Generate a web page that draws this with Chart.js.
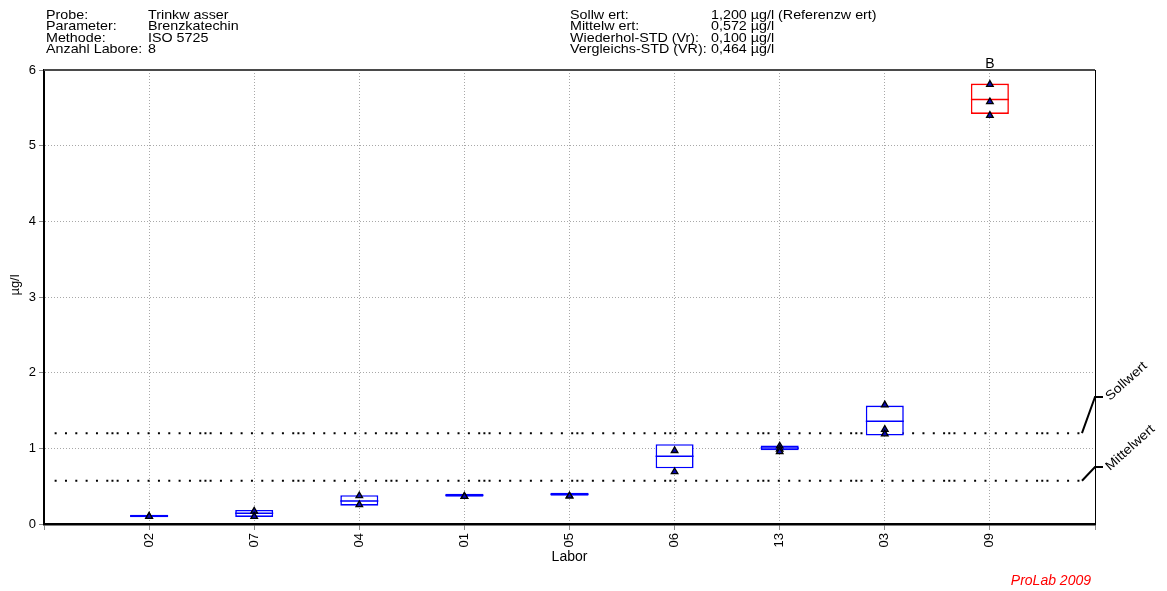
<!DOCTYPE html>
<html>
<head>
<meta charset="utf-8">
<script src="https://cdn.jsdelivr.net/npm/chart.js@4.4.1/dist/chart.umd.min.js"></script>
<style>
  html, body { margin: 0; padding: 0; background: #fff; }
  canvas { display: block; }
</style>
</head>
<body>
<canvas id="c" width="1167" height="591"></canvas>
<script>
// Laboratory codes in plotted order
const labs = ['02', '07', '04', '01', '05', '06', '13', '03', '09'];
// Box per laboratory: lower edge, centre line, upper edge (µg/l)
const boxLow  = [0.089, 0.093, 0.242, 0.361, 0.374, 0.737, 0.975, 1.168, 5.42];
const boxMid  = [0.106, 0.141, 0.304, 0.380, 0.394, 0.895, 1.005, 1.358, 5.61];
const boxHigh = [0.123, 0.185, 0.380, 0.401, 0.414, 1.054, 1.036, 1.565, 5.82];
// Single results of each laboratory (µg/l)
const singles = [
  [0.10, 0.10],
  [0.17, 0.10],
  [0.373, 0.255],
  [0.364, 0.364],
  [0.37, 0.37],
  [0.97, 0.69],
  [1.03, 0.99, 0.956],
  [1.574, 1.25, 1.19],
  [5.81, 5.58, 5.40]
];
// Outlier flags per laboratory
const flags = ['', '', '', '', '', '', '', '', 'B'];
// Reference values (µg/l)
const sollwert = 1.200;
const mittelwert = 0.572;
// Where the reference-line captions sit on the right edge (µg/l)
const sollwertCaptionAt = 1.68;
const mittelwertCaptionAt = 0.754;

const headerLeft = [
  ['Probe:', 'Trinkw asser'],
  ['Parameter:', 'Brenzkatechin'],
  ['Methode:', 'ISO 5725'],
  ['Anzahl Labore:', '8']
];
const headerRight = [
  ['Sollw ert:', '1,200 µg/l (Referenzw ert)'],
  ['Mittelw ert:', '0,572 µg/l'],
  ['Wiederhol-STD (Vr):', '0,100 µg/l'],
  ['Vergleichs-STD (VR):', '0,464 µg/l']
];

const FONT = '"Liberation Sans", Arial, sans-serif';
const xMax = labs.length + 1;
const refStart = 0.1;
const refEnd = 9.876;
// dotted reference line: a dot every ~10.3 px with an extra dot every 9th step
const dotPattern = [2, 3.17, 2, 3.17].concat(Array(8).fill([2, 8.33]).flat());
const boxColors = flags.map(f => f ? '#ff0000' : '#0000ff');

// header text is set in a slightly widened face
function wideText(ctx, text, x, y, stretch) {
  ctx.save();
  ctx.translate(x, y);
  ctx.scale(stretch, 1);
  ctx.fillText(text, 0, 0);
  ctx.restore();
}

const decorations = {
  id: 'decorations',
  beforeDatasetsDraw(chart) {
    const { ctx, chartArea: a } = chart;
    ctx.save();
    ctx.strokeStyle = '#4a4a4a';
    ctx.lineWidth = 2;
    ctx.beginPath();
    ctx.moveTo(a.left, a.top);
    ctx.lineTo(a.right, a.top);
    ctx.stroke();
    ctx.strokeStyle = '#000';
    ctx.lineWidth = 1;
    ctx.beginPath();
    ctx.moveTo(a.right + 0.5, a.top);
    ctx.lineTo(a.right + 0.5, a.bottom);
    ctx.stroke();
    ctx.restore();
  },
  afterDatasetsDraw(chart) {
    const { ctx, scales: { x, y } } = chart;
    const xe = x.getPixelForValue(refEnd);
    const xa = x.getPixelForValue(xMax);
    ctx.save();
    ctx.strokeStyle = '#000';
    ctx.fillStyle = '#000';
    ctx.lineWidth = 2;
    ctx.font = '13px ' + FONT;
    ctx.textAlign = 'left';
    ctx.textBaseline = 'alphabetic';
    [[sollwert, sollwertCaptionAt, 'Sollwert'], [mittelwert, mittelwertCaptionAt, 'Mittelwert']]
      .forEach(([v, at, text]) => {
        const yv = y.getPixelForValue(v);
        const ya = y.getPixelForValue(at);
        ctx.beginPath();
        ctx.moveTo(xe, yv);
        ctx.lineTo(xa, ya);
        ctx.lineTo(xa + 8, ya);
        ctx.stroke();
        ctx.save();
        ctx.translate(xa + 15, ya + 4);
        ctx.rotate(-42 * Math.PI / 180);
        ctx.scale(1.1, 1);
        ctx.fillText(text, 0, 0);
        ctx.restore();
      });
    // outlier flags above the plot
    ctx.textAlign = 'center';
    ctx.font = '14px ' + FONT;
    flags.forEach((f, i) => {
      if (f) ctx.fillText(f, x.getPixelForValue(i + 1), chart.chartArea.top - 2);
    });
    ctx.restore();
  },
  afterDraw(chart) {
    const { ctx } = chart;
    ctx.save();
    ctx.fillStyle = '#000';
    ctx.font = '13px ' + FONT;
    ctx.textAlign = 'left';
    ctx.textBaseline = 'alphabetic';
    const lineY = [19, 30.3, 41.6, 52.9];
    const stretch = 1.1;
    headerLeft.forEach(([k, v], i) => {
      wideText(ctx, k, 46, lineY[i], stretch);
      wideText(ctx, v, 148, lineY[i], stretch);
    });
    headerRight.forEach(([k, v], i) => {
      wideText(ctx, k, 570, lineY[i], stretch);
      wideText(ctx, v, 711, lineY[i], stretch);
    });
    // y axis unit
    ctx.save();
    ctx.font = '13px ' + FONT;
    ctx.translate(15, 285);
    ctx.rotate(-Math.PI / 2);
    ctx.textAlign = 'center';
    ctx.textBaseline = 'middle';
    ctx.fillText('µg/l', 0, 0);
    ctx.restore();
    // footer
    ctx.fillStyle = '#ff0000';
    ctx.font = 'italic 14px ' + FONT;
    ctx.textAlign = 'right';
    ctx.fillText('ProLab 2009', 1091, 585);
    ctx.restore();
  }
};

const gridColor = '#a8a8a8';
const tickFont = { family: FONT, size: 13 };

new Chart(document.getElementById('c'), {
  type: 'scatter',
  data: {
    datasets: [
      {
        type: 'line', label: 'Sollwert',
        data: [{ x: refStart, y: sollwert }, { x: refEnd, y: sollwert }],
        borderColor: '#000', borderWidth: 2, borderDash: dotPattern, borderDashOffset: 41.2,
        pointRadius: 0, order: 4
      },
      {
        type: 'line', label: 'Mittelwert',
        data: [{ x: refStart, y: mittelwert }, { x: refEnd, y: mittelwert }],
        borderColor: '#000', borderWidth: 2, borderDash: dotPattern, borderDashOffset: 41.2,
        pointRadius: 0, order: 4
      },
      {
        type: 'bar', label: 'Box',
        data: labs.map((l, i) => ({ x: i + 1, y: [boxLow[i], boxHigh[i]] })),
        backgroundColor: '#ffffff', borderColor: boxColors, borderWidth: 1.6,
        borderSkipped: false, barThickness: 38, inflateAmount: 0, order: 3
      },
      {
        type: 'scatter', label: 'Mitte',
        data: labs.map((l, i) => ({ x: i + 1, y: boxMid[i] })),
        pointStyle: 'line', pointRadius: 19, pointBorderColor: boxColors, pointBorderWidth: 1.5,
        order: 2
      },
      {
        type: 'scatter', label: 'Einzelwerte',
        data: singles.flatMap((vals, i) => vals.map(v => ({ x: i + 1, y: v }))),
        pointStyle: 'triangle', pointRadius: 3.8,
        pointBackgroundColor: '#0c0cb4', pointBorderColor: '#000', pointBorderWidth: 1.3,
        order: 1
      }
    ]
  },
  options: {
    responsive: false,
    animation: false,
    devicePixelRatio: 1,
    layout: { padding: { top: 70, right: 72, left: 0, bottom: 0 } },
    plugins: { legend: { display: false }, tooltip: { enabled: false } },
    scales: {
      x: {
        type: 'linear', min: 0, max: xMax, offset: false,
        ticks: {
          stepSize: 1, autoSkip: false, minRotation: 90, maxRotation: 90, padding: 3,
          color: '#000', font: tickFont,
          callback: v => labs[v - 1] || ''
        },
        grid: { offset: false, color: gridColor, lineWidth: 1, tickLength: 6, tickColor: '#8a8a8a', borderDash: [1, 2] },
        border: { display: true, color: '#000', width: 2.5, dash: [1, 2] },
        title: { display: true, text: 'Labor', color: '#000', font: { family: FONT, size: 14 }, padding: { top: 0, bottom: 25.6 } },
        afterFit: s => { s.height = 67; }
      },
      y: {
        type: 'linear', min: 0, max: 6,
        ticks: { stepSize: 1, padding: 3, color: '#000', font: tickFont },
        grid: { color: gridColor, lineWidth: 1, tickLength: 5, tickColor: '#8a8a8a', borderDash: [1, 2] },
        border: { display: true, color: '#000', width: 2, dash: [1, 2] },
        afterFit: s => { s.width = 44; }
      }
    }
  },
  plugins: [decorations]
});
</script>
</body>
</html>
